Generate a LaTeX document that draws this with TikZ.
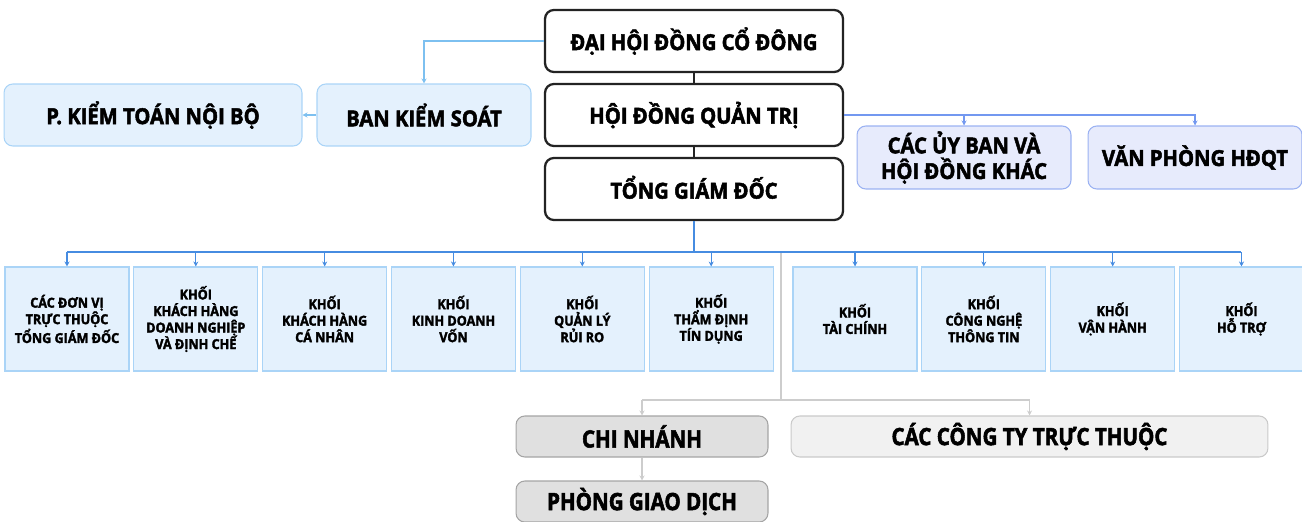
\documentclass[tikz,border=0pt]{standalone}
\usepackage{fontspec}
\setmainfont{Open Sans}[FakeStretch=0.92,BoldFeatures={FakeBold=2.2}]
\newfontfamily\condfont{Open Sans}[FakeStretch=0.86,BoldFeatures={FakeBold=2.2}]
\usepackage{tikz}
\usetikzlibrary{
  arrows.meta,
  positioning
}
\definecolor{inkdark}{RGB}{35,35,35}
\definecolor{skyfill}{RGB}{228,241,253}
\definecolor{skyline}{RGB}{170,212,247}
\definecolor{skyflow}{RGB}{125,192,240}
\definecolor{lavfill}{RGB}{231,235,252}
\definecolor{lavline}{RGB}{155,178,242}
\definecolor{lavflow}{RGB}{115,152,240}
\definecolor{busblue}{RGB}{70,140,225}
\definecolor{greyfill}{RGB}{224,224,224}
\definecolor{greyline}{RGB}{165,165,165}
\definecolor{palefill}{RGB}{241,241,241}
\definecolor{paleline}{RGB}{202,202,202}
\definecolor{greyflow}{RGB}{205,205,205}
\tikzset{
  govbox/.style={draw=inkdark,line width=1.3pt,fill=white,rounded corners=5pt,
    minimum width=5.96cm,minimum height=1.24cm,align=center,inner sep=2pt,
    font=\fontsize{12.5}{14}\selectfont\bfseries},
  auditbox/.style={draw=skyline,line width=0.6pt,fill=skyfill,rounded corners=5pt,
    minimum height=1.24cm,align=center,inner sep=2pt,
    font=\fontsize{12.5}{14}\selectfont\bfseries},
  boardbox/.style={draw=lavline,line width=0.6pt,fill=lavfill,rounded corners=5pt,
    minimum width=4.28cm,minimum height=1.26cm,align=center,inner sep=2pt,
    font=\fontsize{12.5}{14.6}\selectfont\bfseries},
  unitbox/.style={draw=skyline,line width=0.6pt,fill=skyfill,
    minimum width=2.48cm,minimum height=2.08cm,align=center,inner sep=1pt,
    font=\fontsize{7.8}{9.4}\selectfont\bfseries},
  branchbox/.style={draw=greyline,line width=0.6pt,fill=greyfill,rounded corners=5pt,
    minimum width=5.04cm,minimum height=0.82cm,align=center,inner sep=2pt,
    font=\fontsize{13.6}{15}\selectfont\condfont\bfseries},
  subbox/.style={branchbox,draw=paleline,fill=palefill,minimum width=9.54cm},
  govflow/.style={line width=0.9pt,draw=inkdark},
  skyarrow/.style={-{Stealth[length=1mm,width=1mm]},line width=0.6pt,draw=skyflow},
  lavarrow/.style={-{Stealth[length=1mm,width=1mm]},line width=0.6pt,draw=lavflow},
  busarrow/.style={-{Stealth[length=1mm,width=1mm]},line width=0.6pt,draw=busblue},
  greyarrow/.style={-{Stealth[length=1mm,width=1mm]},line width=0.6pt,draw=greyflow}
}
\begin{document}
\begin{tikzpicture}[x=0.02cm,y=-0.02cm]
  \useasboundingbox (0,0) rectangle (1302,521);
  % top column
  \node[govbox] (dhdcd) at (694,41) {ĐẠI HỘI ĐỒNG CỔ ĐÔNG};
  \node[govbox] (hdqt) at (694,115) {HỘI ĐỒNG QUẢN TRỊ};
  \node[govbox] (tgd) at (694,189) {\raisebox{2pt}{TỔNG GIÁM ĐỐC}};
  \node[auditbox,minimum width=4.28cm] (bks) at (424,115) {BAN KIỂM SOÁT};
  \node[auditbox,minimum width=5.96cm,left=0.28cm of bks] (ktnb) {P. KIỂM TOÁN NỘI BỘ};
  \node[boardbox] (uyban) at (964,157.5) {CÁC ỦY BAN VÀ\\HỘI ĐỒNG KHÁC};
  \node[boardbox,right=0.32cm of uyban] (vphdqt) {VĂN PHÒNG HĐQT};
  \draw[govflow] (dhdcd)--(hdqt);
  \draw[govflow] (hdqt)--(tgd);
  \draw[skyarrow] (dhdcd.west) -| (bks.north);
  \draw[skyarrow] (bks.west)--(ktnb.east);
  \draw[lavarrow] (hdqt.east) -| (uyban.north);
  \draw[lavarrow] (hdqt.east) -| (vphdqt.north);
  % units
  \node[unitbox] (dvtt) at (67,319) {CÁC ĐƠN VỊ\\TRỰC THUỘC\\TỔNG GIÁM ĐỐC};
  \node[unitbox,right=0.076cm of dvtt] (khdn) {KHỐI\\KHÁCH HÀNG\\DOANH NGHIỆP\\VÀ ĐỊNH CHẾ};
  \node[unitbox,right=0.076cm of khdn] (khcn) {KHỐI\\KHÁCH HÀNG\\CÁ NHÂN};
  \node[unitbox,right=0.076cm of khcn] (kdv) {KHỐI\\KINH DOANH\\VỐN};
  \node[unitbox,right=0.076cm of kdv] (qlrr) {KHỐI\\QUẢN LÝ\\RỦI RO};
  \node[unitbox,right=0.076cm of qlrr] (tdtd) {KHỐI\\THẨM ĐỊNH\\TÍN DỤNG};
  \node[unitbox] (tc) at (855,319) {KHỐI\\TÀI CHÍNH};
  \node[unitbox,right=0.076cm of tc] (cntt) {KHỐI\\CÔNG NGHỆ\\THÔNG TIN};
  \node[unitbox,right=0.076cm of cntt] (vh) {KHỐI\\VẬN HÀNH};
  \node[unitbox,right=0.076cm of vh] (ht) {KHỐI\\HỖ TRỢ};
  \coordinate (bus) at (694,252);
  \draw[busblue,line width=0.6pt] (tgd.south)--(bus);
  \draw[busblue,line width=0.6pt] (bus -| dvtt.north)--(bus -| ht.north);
  \draw[busarrow] (bus -| dvtt.north)--(dvtt.north);
  \draw[busarrow] (bus -| khdn.north)--(khdn.north);
  \draw[busarrow] (bus -| khcn.north)--(khcn.north);
  \draw[busarrow] (bus -| kdv.north)--(kdv.north);
  \draw[busarrow] (bus -| qlrr.north)--(qlrr.north);
  \draw[busarrow] (bus -| tdtd.north)--(tdtd.north);
  \draw[busarrow] (bus -| tc.north)--(tc.north);
  \draw[busarrow] (bus -| cntt.north)--(cntt.north);
  \draw[busarrow] (bus -| vh.north)--(vh.north);
  \draw[busarrow] (bus -| ht.north)--(ht.north);
  % network
  \node[branchbox] (cn) at (642,436.5) {CHI NHÁNH};
  \node[subbox] (cttt) at (1029.5,436.5) {CÁC CÔNG TY TRỰC THUỘC};
  \node[branchbox] (pgd) at (642,501.5) {PHÒNG GIAO DỊCH};
  \coordinate (split) at (781,253);
  \coordinate (fork) at (781,400);
  \draw[greyflow,line width=0.6pt] (split)--(fork);
  \draw[greyflow,line width=0.6pt] (fork -| cn.north)--(fork -| cttt.north);
  \draw[greyarrow] (fork -| cn.north)--(cn.north);
  \draw[greyarrow] (fork -| cttt.north)--(cttt.north);
  \draw[greyarrow] (cn)--(pgd);
\end{tikzpicture}
\end{document}
